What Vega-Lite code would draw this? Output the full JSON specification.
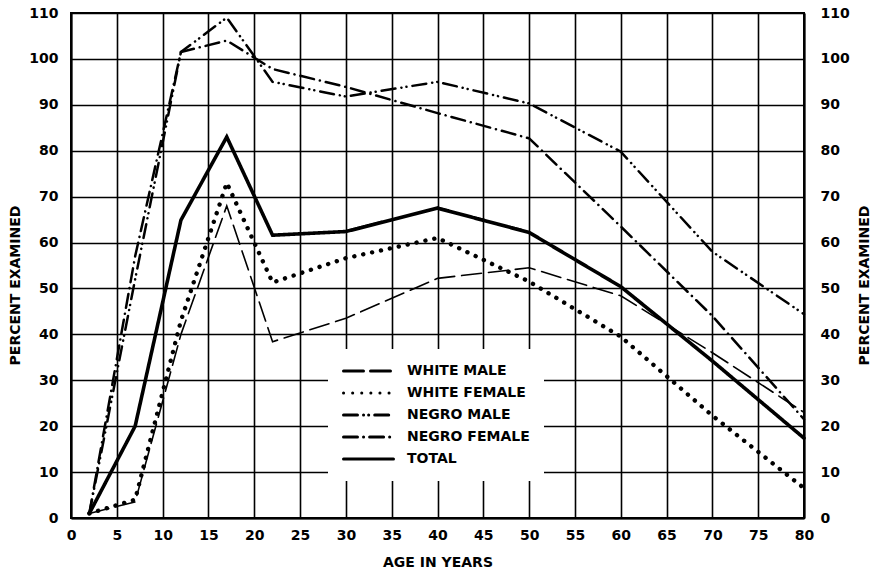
{
  "$schema": "https://vega.github.io/schema/vega-lite/v6.json",
  "width": 733,
  "height": 505,
  "autosize": "none",
  "padding": {"left": 71, "top": 13, "right": 76, "bottom": 55},
  "background": "white",
  "config": {
    "font": "DejaVu Sans",
    "view": {"stroke": "black", "strokeWidth": 2},
    "axis": {
      "labelFont": "DejaVu Sans", "labelFontWeight": "bold", "labelFontSize": 14, "labelColor": "black",
      "titleFont": "DejaVu Sans", "titleFontWeight": "bold", "titleFontSize": 14, "titleColor": "black",
      "ticks": false, "tickSize": 0, "domainColor": "black", "domainWidth": 2,
      "gridColor": "black", "gridWidth": 1.6, "gridOpacity": 1
    }
  },
  "data": {
    "values": [
      {"age": 2, "group": "WHITE MALE", "pct": 1},
      {"age": 7, "group": "WHITE MALE", "pct": 3.5},
      {"age": 12, "group": "WHITE MALE", "pct": 40},
      {"age": 17, "group": "WHITE MALE", "pct": 68},
      {"age": 22, "group": "WHITE MALE", "pct": 38.4},
      {"age": 30, "group": "WHITE MALE", "pct": 43.5},
      {"age": 40, "group": "WHITE MALE", "pct": 52.2},
      {"age": 50, "group": "WHITE MALE", "pct": 54.5},
      {"age": 60, "group": "WHITE MALE", "pct": 48.4},
      {"age": 70, "group": "WHITE MALE", "pct": 36},
      {"age": 80, "group": "WHITE MALE", "pct": 23},
      {"age": 2, "group": "WHITE FEMALE", "pct": 1},
      {"age": 7, "group": "WHITE FEMALE", "pct": 4},
      {"age": 12, "group": "WHITE FEMALE", "pct": 43},
      {"age": 17, "group": "WHITE FEMALE", "pct": 73},
      {"age": 22, "group": "WHITE FEMALE", "pct": 51.3},
      {"age": 30, "group": "WHITE FEMALE", "pct": 56.6},
      {"age": 40, "group": "WHITE FEMALE", "pct": 61},
      {"age": 50, "group": "WHITE FEMALE", "pct": 51.5},
      {"age": 60, "group": "WHITE FEMALE", "pct": 39.5},
      {"age": 70, "group": "WHITE FEMALE", "pct": 22.3},
      {"age": 80, "group": "WHITE FEMALE", "pct": 6.5},
      {"age": 2, "group": "NEGRO MALE", "pct": 1},
      {"age": 7, "group": "NEGRO MALE", "pct": 52},
      {"age": 12, "group": "NEGRO MALE", "pct": 101.5},
      {"age": 17, "group": "NEGRO MALE", "pct": 109},
      {"age": 22, "group": "NEGRO MALE", "pct": 95},
      {"age": 30, "group": "NEGRO MALE", "pct": 91.8},
      {"age": 40, "group": "NEGRO MALE", "pct": 95},
      {"age": 50, "group": "NEGRO MALE", "pct": 90.3},
      {"age": 60, "group": "NEGRO MALE", "pct": 79.8},
      {"age": 70, "group": "NEGRO MALE", "pct": 58},
      {"age": 80, "group": "NEGRO MALE", "pct": 44.4},
      {"age": 2, "group": "NEGRO FEMALE", "pct": 1},
      {"age": 7, "group": "NEGRO FEMALE", "pct": 57},
      {"age": 12, "group": "NEGRO FEMALE", "pct": 101.5},
      {"age": 17, "group": "NEGRO FEMALE", "pct": 104},
      {"age": 22, "group": "NEGRO FEMALE", "pct": 97.8},
      {"age": 30, "group": "NEGRO FEMALE", "pct": 93.9},
      {"age": 40, "group": "NEGRO FEMALE", "pct": 88.2},
      {"age": 50, "group": "NEGRO FEMALE", "pct": 82.7},
      {"age": 60, "group": "NEGRO FEMALE", "pct": 63.5},
      {"age": 70, "group": "NEGRO FEMALE", "pct": 44},
      {"age": 80, "group": "NEGRO FEMALE", "pct": 21.5},
      {"age": 2, "group": "TOTAL", "pct": 1},
      {"age": 7, "group": "TOTAL", "pct": 20},
      {"age": 12, "group": "TOTAL", "pct": 64.9},
      {"age": 17, "group": "TOTAL", "pct": 83},
      {"age": 22, "group": "TOTAL", "pct": 61.6},
      {"age": 30, "group": "TOTAL", "pct": 62.4},
      {"age": 40, "group": "TOTAL", "pct": 67.5},
      {"age": 50, "group": "TOTAL", "pct": 62.2},
      {"age": 60, "group": "TOTAL", "pct": 50.4},
      {"age": 70, "group": "TOTAL", "pct": 34.2},
      {"age": 80, "group": "TOTAL", "pct": 17.4}
    ]
  },
  "encoding": {
    "x": {
      "field": "age", "type": "quantitative",
      "scale": {"domain": [0, 80], "nice": false},
      "axis": {
        "values": [0, 5, 10, 15, 20, 25, 30, 35, 40, 45, 50, 55, 60, 65, 70, 75, 80],
        "title": "AGE IN YEARS", "labelPadding": 10, "titlePadding": 13,
        "grid": true, "labelFlush": false
      }
    },
    "strokeDash": {
      "field": "group", "type": "nominal",
      "scale": {
        "domain": ["WHITE MALE", "WHITE FEMALE", "NEGRO MALE", "NEGRO FEMALE", "TOTAL"],
        "range": [[20, 7], [0.1, 9], [14, 6, 0.1, 5, 0.1, 6], [14, 6, 0.1, 6], [1, 0]]
      },
      "legend": {
        "orient": "none", "legendX": 257, "legendY": 336, "title": null,
        "symbolType": "stroke", "symbolSize": 2500, "symbolStrokeWidth": 3,
        "symbolStrokeColor": "black", "clipHeight": 16, "rowPadding": 6,
        "labelOffset": 12, "padding": 14, "fillColor": "white",
        "labelFont": "DejaVu Sans", "labelFontSize": 14, "labelFontWeight": "bold", "labelColor": "black",
        "encode": {"symbols": {"update": {"strokeCap": {"value": "round"}}}}
      }
    },
    "strokeWidth": {
      "condition": [
        {"test": "datum.group === 'TOTAL'", "value": 3.6},
        {"test": "datum.group === 'WHITE FEMALE'", "value": 4.4},
        {"test": "datum.group === 'WHITE MALE'", "value": 1.6}
      ],
      "value": 2.5
    }
  },
  "layer": [
    {
      "transform": [{"filter": "datum.group === 'WHITE MALE' || datum.group === 'WHITE FEMALE'"}],
      "mark": {"type": "line", "stroke": "black", "strokeCap": "round"},
      "encoding": {
        "y": {
          "field": "pct", "type": "quantitative",
          "scale": {"domain": [0, 110], "nice": false},
          "axis": {
            "orient": "left", "values": [0, 10, 20, 30, 40, 50, 60, 70, 80, 90, 100, 110],
            "grid": true, "title": "PERCENT EXAMINED", "labelPadding": 13,
            "titleAngle": 270, "titleX": -56, "titleY": 272, "titleAlign": "center", "titleBaseline": "middle"
          }
        }
      }
    },
    {
      "transform": [{"filter": "datum.group !== 'WHITE MALE' && datum.group !== 'WHITE FEMALE'"}],
      "mark": {"type": "line", "stroke": "black", "strokeCap": "round"},
      "encoding": {
        "y": {
          "field": "pct", "type": "quantitative",
          "scale": {"domain": [0, 110], "nice": false},
          "axis": {
            "orient": "right", "values": [0, 10, 20, 30, 40, 50, 60, 70, 80, 90, 100, 110],
            "grid": false, "title": "PERCENT EXAMINED", "labelPadding": 16,
            "titleAngle": 270, "titleX": 60, "titleY": 272, "titleAlign": "center", "titleBaseline": "middle"
          }
        }
      }
    }
  ],
  "resolve": {"axis": {"y": "independent"}}
}
